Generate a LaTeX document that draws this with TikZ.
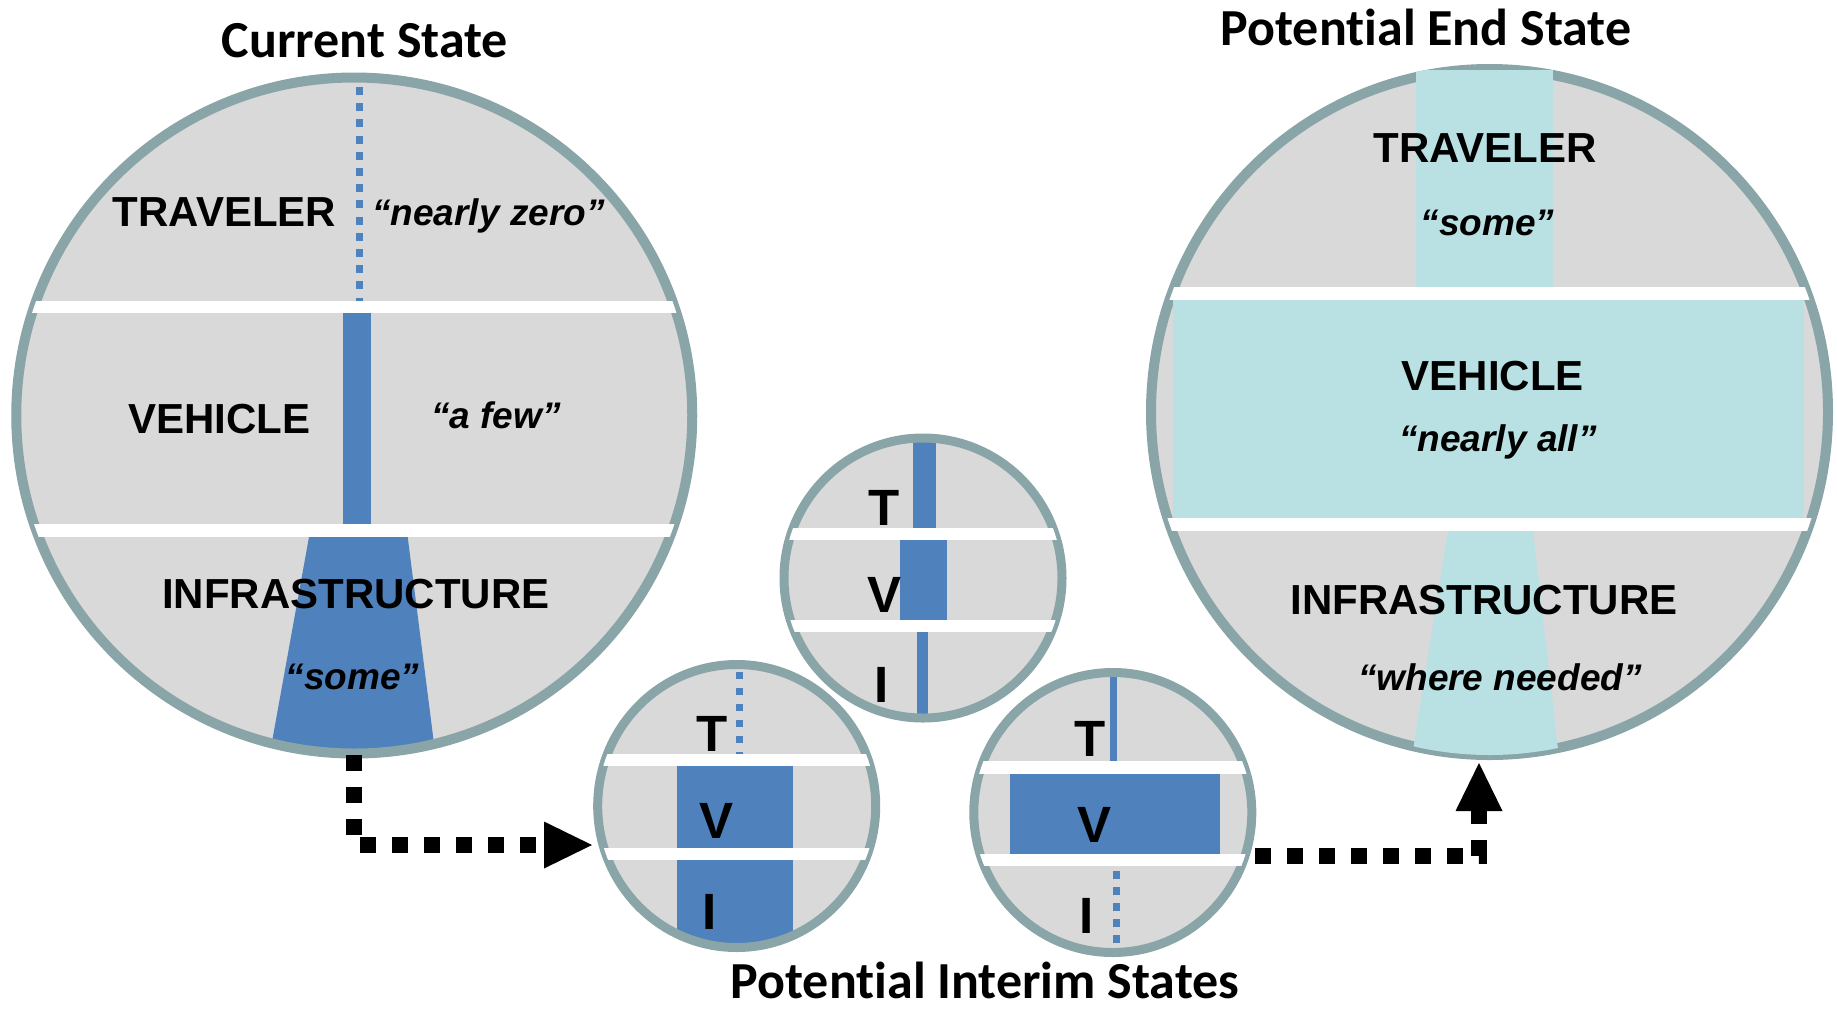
\documentclass[tikz,border=0pt]{standalone}
\usepackage{fontspec}
\setmainfont{Liberation Sans}
\newfontfamily\ttlfont[RawFeature={-liga;-calt;-clig;-dlig}]{Carlito}
\usetikzlibrary{arrows.meta,shapes.geometric}
\definecolor{ringc}{HTML}{8AA5A8}
\definecolor{discg}{HTML}{D9D9D9}
\definecolor{barblue}{HTML}{4F81BD}
\definecolor{barcyan}{HTML}{B9E0E3}
\begin{document}
\begin{tikzpicture}[x=0.5pt,y=-0.5pt,
 disc/.style={ellipse, fill=discg, inner sep=0pt, outer sep=0pt},
 ringbig/.style={draw=ringc, line width=5pt},
 ringsmall/.style={draw=ringc, line width=4.5pt},
 stripe/.style={fill=white},
 bluebar/.style={fill=barblue},
 cyanbar/.style={fill=barcyan},
 bluedot/.style={draw=barblue, line width=3.5pt, dash pattern=on 4pt off 4.1pt},
 bluedotsm/.style={draw=barblue, line width=3.5pt, dash pattern=on 3.8pt off 4.2pt},
 ttl/.style={font=\ttlfont\bfseries\fontsize{26}{30}\selectfont, anchor=base, inner sep=0pt, text depth=0pt},
 caplbl/.style={font=\bfseries\fontsize{21}{25}\selectfont, anchor=base, inner sep=0pt},
 qtlbl/.style={font=\bfseries\itshape\fontsize{18.5}{22}\selectfont, anchor=base, inner sep=0pt},
 letlbl/.style={font=\bfseries\fontsize{25.5}{30}\selectfont, anchor=base, inner sep=0pt},
 flowarrow/.style={draw=black, line width=8pt, dash pattern=on 8pt off 8pt,
   -{Triangle[length=24pt,width=23.5pt,line width=0pt]}},
]
\useasboundingbox (0,0) rectangle (1837,1009);

% ================= Current State =================
\node[disc, minimum width=338pt, minimum height=338pt] (cur) at (354.25,415.5) {};
\begin{scope}
  \clip (cur.center) ellipse [x radius=338, y radius=338];
  \path[bluedot] (359.5,87) -- (359.5,302);
  \path[bluebar] (343,305) rectangle (371,530);
  \path[bluebar] (309,537) -- (407.7,537) -- (438,775) -- (266,775) -- cycle;
\end{scope}
\draw[ringbig] (cur.center) ellipse [x radius=338, y radius=338];
\begin{scope}
  \clip (cur.center) ellipse [x radius=338, y radius=338];
  \path[stripe] (0,301) rectangle (720,313.4);
  \path[stripe] (0,524) rectangle (720,537);
\end{scope}
\node[caplbl] (curT) at (224.5,226.4) {TRAVELER};
\node[qtlbl] (curTq) at (488.5,225) {“nearly zero”};
\node[caplbl] (curV) at (219.3,433) {VEHICLE};
\node[qtlbl] (curVq) at (496,428) {“a few”};
\node[caplbl] (curI) at (355.8,608) {INFRASTRUCTURE};
\node[qtlbl] (curIq) at (352.6,689) {“some”};
\node[ttl] (tcur) at (365,57) {Current State};

% ================= Potential End State =================
\node[disc, minimum width=338.5pt, minimum height=343pt] (endst) at (1489.5,412) {};
\draw[ringbig] (endst.center) ellipse [x radius=338.5, y radius=343];
\begin{scope}
  \clip (endst.center) ellipse [x radius=343.5, y radius=348];
  \path[cyanbar] (1416.4,70) rectangle (1553.3,290);
\end{scope}
\begin{scope}
  \clip (endst.center) ellipse [x radius=338.5, y radius=343];
  \path[cyanbar] (1173,298) rectangle (1804.4,520);
  \path[cyanbar] (1448,530.6) -- (1533,530.6) -- (1561,775) -- (1409,775) -- cycle;
  \path[stripe] (1140,286.7) rectangle (1840,300);
  \path[stripe] (1140,518) rectangle (1840,530.6);
\end{scope}
\node[caplbl] (endT) at (1485,162) {TRAVELER};
\node[qtlbl] (endTq) at (1487.6,235.7) {“some”};
\node[caplbl] (endV) at (1492.8,390) {VEHICLE};
\node[qtlbl] (endVq) at (1498,451.5) {“nearly all”};
\node[caplbl] (endI) at (1484,614.8) {INFRASTRUCTURE};
\node[qtlbl] (endIq) at (1500,690) {“where needed”};
\node[ttl] (tend) at (1426,45) {Potential End State};

% ================= Interim state (top middle) =================
\node[disc, minimum width=139pt, minimum height=140pt] (intT) at (923,578) {};
\begin{scope}
  \clip (intT.center) ellipse [x radius=139, y radius=140];
  \path[bluebar] (913,420) rectangle (935.8,530);
  \path[bluebar] (900,538) rectangle (947.4,621);
  \path[bluebar] (917,630) rectangle (928,730);
\end{scope}
\draw[ringsmall] (intT.center) ellipse [x radius=139, y radius=140];
\begin{scope}
  \clip (intT.center) ellipse [x radius=139, y radius=140];
  \path[stripe] (770,528.2) rectangle (1080,539.5);
  \path[stripe] (770,620.2) rectangle (1080,632.2);
\end{scope}
\node[letlbl] (intTT) at (884.4,525) {T};
\node[letlbl] (intTV) at (884.3,612) {V};
\node[letlbl] (intTI) at (882,702) {I};

% ================= Interim state (bottom left) =================
\node[disc, minimum width=139pt, minimum height=141.5pt] (intA) at (736.7,806) {};
\begin{scope}
  \clip (intA.center) ellipse [x radius=139, y radius=141.5];
  \path[bluedotsm] (739,671.7) -- (739,754);
  \path[bluebar] (677,765) rectangle (793,849);
  \path[bluebar] (677,858) rectangle (793,960);
\end{scope}
\draw[ringsmall] (intA.center) ellipse [x radius=139, y radius=141.5];
\begin{scope}
  \clip (intA.center) ellipse [x radius=139, y radius=141.5];
  \path[stripe] (590,754.3) rectangle (890,766.4);
  \path[stripe] (590,847.5) rectangle (890,859.5);
\end{scope}
\node[letlbl] (intAT) at (712.5,751) {T};
\node[letlbl] (intAV) at (716.5,838) {V};
\node[letlbl] (intAI) at (709.5,929) {I};

% ================= Interim state (bottom right) =================
\node[disc, minimum width=139pt, minimum height=140pt] (intB) at (1112.8,812.5) {};
\begin{scope}
  \clip (intB.center) ellipse [x radius=139, y radius=140];
  \path[bluebar] (1110,670) rectangle (1116.6,762);
  \path[bluebar] (1009.5,772) rectangle (1220,855);
  \path[bluedotsm] (1116,871) -- (1116,945);
\end{scope}
\draw[ringsmall] (intB.center) ellipse [x radius=139, y radius=140];
\begin{scope}
  \clip (intB.center) ellipse [x radius=139, y radius=140];
  \path[stripe] (960,761) rectangle (1270,774);
  \path[stripe] (960,854) rectangle (1270,866);
\end{scope}
\node[letlbl] (intBT) at (1090,756) {T};
\node[letlbl] (intBV) at (1094,842.6) {V};
\node[letlbl] (intBI) at (1086.5,933) {I};

\node[ttl] (tint) at (985,998) {Potential Interim States};

% ================= Connectors =================
\coordinate (a1s) at (353.7,755);
\coordinate (a1e) at (592,845);
\draw[flowarrow] (a1s) |- (a1e);
\coordinate (a2s) at (1255,856);
\coordinate (a2e) at (1479,763);
\draw[flowarrow] (a2s) -| (a2e);
\end{tikzpicture}
\end{document}
